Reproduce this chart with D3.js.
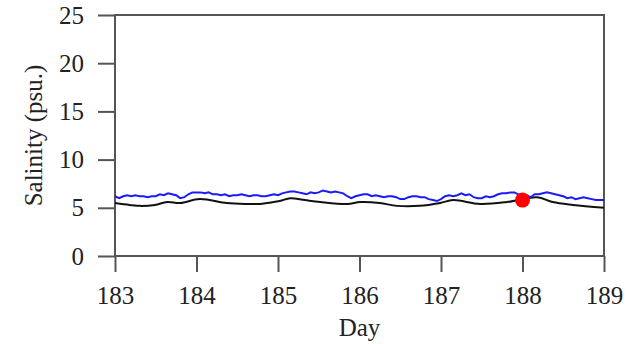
<!DOCTYPE html>
<html><head><meta charset="utf-8">
<script src="https://cdn.jsdelivr.net/npm/d3@7"></script>
<style>body{margin:0;background:#fff}svg{display:block}text{font-family:"Liberation Serif","Times New Roman",serif;fill:#222}</style>
</head><body><svg id="c" width="632" height="344"></svg>
<script>
const xTicks = [183,184,185,186,187,188,189];
const yTicks = [0,5,10,15,20,25];
const blueDays = [183.00,183.05,183.10,183.15,183.20,183.25,183.30,183.35,183.40,183.45,183.50,183.55,183.60,183.65,183.70,183.75,183.80,183.85,183.90,183.95,
184.00,184.05,184.10,184.15,184.20,184.25,184.30,184.35,184.40,184.45,184.50,184.55,184.60,184.65,184.70,184.75,184.80,184.85,184.90,184.95,
185.00,185.05,185.10,185.15,185.20,185.25,185.30,185.35,185.40,185.45,185.50,185.55,185.60,185.65,185.70,185.75,185.80,185.85,185.90,185.95,
186.00,186.05,186.10,186.15,186.20,186.25,186.30,186.35,186.40,186.45,186.50,186.55,186.60,186.65,186.70,186.75,186.80,186.85,186.90,186.95,
187.00,187.05,187.10,187.15,187.20,187.25,187.30,187.35,187.40,187.45,187.50,187.55,187.60,187.65,187.70,187.75,187.80,187.85,187.90,187.95,
188.00,188.05,188.10,188.15,188.20,188.25,188.30,188.35,188.40,188.45,188.50,188.55,188.60,188.65,188.70,188.75,188.80,188.85,188.90,188.95,189.00];
const blueSalinity = [6.2,6.0,6.2,6.3,6.2,6.3,6.2,6.2,6.1,6.2,6.2,6.4,6.3,6.5,6.4,6.3,6.0,6.1,6.4,6.6,
6.6,6.6,6.5,6.6,6.4,6.4,6.3,6.4,6.2,6.3,6.3,6.4,6.3,6.2,6.3,6.3,6.2,6.2,6.3,6.4,
6.3,6.5,6.6,6.7,6.7,6.6,6.5,6.4,6.6,6.5,6.6,6.8,6.7,6.6,6.7,6.6,6.5,6.2,6.0,6.2,
6.3,6.4,6.4,6.2,6.3,6.2,6.1,6.2,6.2,6.1,5.9,5.9,6.1,6.2,6.2,6.1,6.1,5.9,5.8,5.7,
5.9,6.2,6.3,6.2,6.3,6.5,6.3,6.4,6.1,6.0,6.0,6.2,6.1,6.2,6.4,6.5,6.5,6.6,6.6,6.4,
6.2,6.3,6.1,6.4,6.4,6.5,6.6,6.5,6.4,6.3,6.2,6.0,6.1,5.9,6.0,6.1,6.0,5.9,5.8,5.8,5.8];
const blackDays = [183.00,183.18,183.31,183.49,183.64,183.80,184.04,184.37,184.60,184.78,185.02,185.15,185.33,185.52,185.85,186.01,186.25,186.46,186.74,186.99,187.15,187.48,187.81,188.18,188.37,188.62,189.00];
const blackSalinity = [5.5,5.3,5.2,5.3,5.6,5.5,5.9,5.5,5.4,5.4,5.7,6.0,5.8,5.6,5.4,5.6,5.5,5.2,5.2,5.5,5.8,5.4,5.6,6.1,5.6,5.3,5.0];
const obsDay = [188.0];
const obsSalinity = [5.8];

const svg = d3.select("#c");
const L=115,R=604,T=15,B=256;
const x = d3.scaleLinear().domain([183,189]).range([L,R]);
const y = d3.scaleLinear().domain([0,25]).range([B,T]);

const ax = "#555";
const gx = svg.append("g").attr("transform",`translate(0,${B})`)
  .call(d3.axisBottom(x).tickValues(xTicks).tickFormat(d3.format("d")).tickSize(16).tickPadding(14));
gx.select(".domain").remove();
gx.selectAll("line").attr("stroke",ax).attr("stroke-width",2);
gx.selectAll("text").attr("font-size",25).attr("fill","#222");
const gy = svg.append("g").attr("transform",`translate(${L},0)`)
  .call(d3.axisLeft(y).tickValues(yTicks).tickSize(17).tickPadding(14));
gy.select(".domain").remove();
gy.selectAll("line").attr("stroke",ax).attr("stroke-width",2);
gy.selectAll("text").attr("font-size",25).attr("fill","#222");
svg.append("rect").attr("x",L).attr("y",T).attr("width",R-L).attr("height",B-T)
  .attr("fill","none").attr("stroke",ax).attr("stroke-width",2);

const line = d3.line().x(d=>x(d[0])).y(d=>y(d[1]));
svg.append("path").datum(blackDays.map((d,i)=>[d,blackSalinity[i]]))
  .attr("d",line.curve(d3.curveCatmullRom)).attr("fill","none").attr("stroke","#111").attr("stroke-width",2);
svg.append("path").datum(blueDays.map((d,i)=>[d,blueSalinity[i]]))
  .attr("d",line.curve(d3.curveLinear)).attr("fill","none").attr("stroke","#1a1aff").attr("stroke-width",2);
svg.selectAll("circle.obs").data(obsDay).enter().append("circle")
  .attr("cx",d=>x(d)).attr("cy",(d,i)=>y(obsSalinity[i])).attr("r",7.5).attr("fill","#ff0000");

svg.append("text").attr("x",(L+R)/2).attr("y",336).attr("text-anchor","middle").attr("font-size",25).text("Day");
svg.append("text").attr("transform",`translate(42,${(T+B)/2}) rotate(-90)`).attr("text-anchor","middle").attr("font-size",25).text("Salinity (psu.)");
</script></body></html>
